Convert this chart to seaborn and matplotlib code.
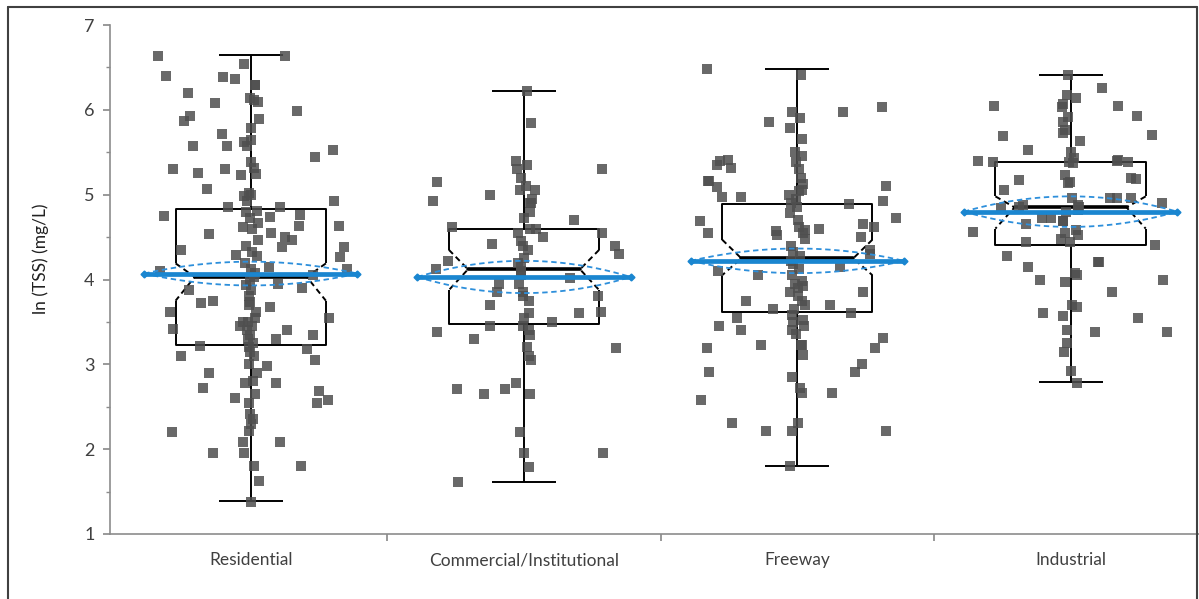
import numpy as np
import pandas as pd
import seaborn as sns
import matplotlib.pyplot as plt
from matplotlib.lines import Line2D
from matplotlib.ticker import MultipleLocator

categories = ["Residential", "Commercial/Institutional", "Freeway", "Industrial"]

# ln(TSS) values; "line" = points sitting on the whisker line,
# "spread" = points scattered across the box width
res_line = [6.54, 6.29, 6.14, 6.12, 5.89, 5.78, 5.65, 5.62, 5.57, 5.38, 5.32, 5.24,
            5.02, 4.98, 4.92, 4.81, 4.80, 4.72, 4.67, 4.62, 4.60, 4.46, 4.40, 4.33,
            4.28, 4.20, 4.12, 4.08, 4.03, 3.98, 3.93, 3.88, 3.80, 3.74, 3.70, 3.62,
            3.55, 3.50, 3.45, 3.40, 3.35, 3.30, 3.25, 3.20, 3.15, 3.10, 3.00, 2.90,
            2.78, 2.65, 2.55, 2.42, 2.35, 2.30, 2.22, 2.08, 1.95, 1.80, 1.38]
res_spread = [6.64, 6.63, 6.40, 6.39, 6.36, 6.20, 6.29, 6.09, 6.08, 5.99, 5.87, 5.93,
              5.71, 5.57, 5.57, 5.53, 5.44, 5.30, 5.30, 5.25, 5.23, 5.07, 5.00, 4.92,
              4.85, 4.85, 4.74, 4.76, 4.75, 4.63, 4.63, 4.55, 4.54, 4.50, 4.47, 4.38,
              4.35, 4.38, 4.27, 4.29, 4.15, 4.10, 4.12, 4.05, 3.95, 3.90, 3.88, 3.75,
              3.72, 3.68, 3.62, 3.55, 3.50, 3.45, 3.42, 3.40, 3.35, 3.30, 3.22, 3.18,
              3.10, 3.05, 2.98, 2.90, 2.80, 2.78, 2.72, 2.68, 2.60, 2.58, 2.55, 2.20,
              2.08, 1.95, 1.80, 1.62]

com_line = [6.22, 5.85, 5.35, 5.30, 5.20, 5.10, 5.05, 4.95, 4.90, 4.80, 4.72, 4.60,
            4.55, 4.45, 4.40, 4.35, 4.25, 4.20, 4.15, 4.10, 4.05, 3.95, 3.85, 3.80,
            3.75, 3.60, 3.55, 3.45, 3.40, 3.35, 3.20, 3.10, 3.05, 2.78, 2.65, 2.20,
            1.95, 1.79]
com_spread = [5.40, 5.30, 5.15, 5.05, 5.00, 4.92, 4.70, 4.60, 4.55, 4.50, 4.42, 4.30,
              4.22, 4.12, 4.02, 3.95, 3.85, 3.80, 3.70, 3.62, 3.50, 3.45, 3.38, 3.30,
              3.19, 2.71, 2.71, 2.65, 1.95, 1.61, 3.60, 4.62, 4.40, 4.90]

fwy_line = [6.41, 5.97, 5.90, 5.79, 5.50, 5.45, 5.38, 5.30, 5.20, 5.13, 5.05, 5.00,
            4.95, 4.85, 4.78, 4.70, 4.62, 4.55, 4.48, 4.40, 4.33, 4.28, 4.22, 4.18,
            4.12, 4.05, 3.98, 3.92, 3.85, 3.80, 3.75, 3.70, 3.65, 3.58, 3.52, 3.45,
            3.40, 3.36, 3.23, 3.11, 2.85, 2.72, 2.66, 2.31, 2.21, 1.80]
fwy_spread = [6.48, 6.03, 5.86, 5.98, 5.66, 5.35, 5.40, 5.41, 5.32, 5.16, 5.16, 5.10,
              5.09, 5.04, 4.97, 4.97, 4.89, 4.92, 4.90, 4.69, 4.72, 4.55, 4.57, 4.58,
              4.62, 4.50, 4.60, 4.52, 4.65, 4.35, 4.30, 4.15, 4.10, 4.05, 3.95, 3.90,
              3.85, 3.75, 3.70, 3.65, 3.60, 3.55, 3.50, 3.45, 3.40, 3.31, 3.23, 3.19,
              3.23, 3.19, 2.91, 2.91, 3.00, 2.58, 2.66, 2.31, 2.21, 2.21]

ind_line = [6.17, 6.14, 6.07, 6.03, 5.92, 5.86, 5.76, 5.73, 5.50, 5.43, 5.38, 5.23,
            5.14, 4.96, 4.88, 4.85, 4.80, 4.69, 4.58, 4.52, 4.44, 4.08, 4.05, 3.70,
            3.67, 3.57, 3.40, 3.25, 3.15, 2.78]
ind_spread = [6.41, 6.26, 6.05, 6.05, 5.93, 5.70, 5.69, 5.63, 5.53, 5.41, 5.40, 5.37,
              5.38, 5.40, 5.38, 5.19, 5.17, 5.20, 5.15, 5.05, 4.96, 4.96, 4.96, 4.90,
              4.88, 4.86, 4.84, 4.82, 4.72, 4.72, 4.69, 4.66, 4.56, 4.55, 4.44, 4.48,
              4.41, 4.28, 4.21, 4.21, 4.15, 3.97, 4.00, 4.00, 3.85, 3.55, 3.60, 3.38,
              3.38, 2.92]

# box statistics
whis_lo = [1.39, 1.61, 1.80, 2.79]
q1 = [3.23, 3.48, 3.62, 4.41]
notch_lo = [3.75, 3.875, 4.05, 4.60]
median = [4.03, 4.12, 4.25, 4.85]
notch_hi = [4.19, 4.35, 4.47, 4.98]
q3 = [4.83, 4.59, 4.89, 5.38]
whis_hi = [6.65, 6.22, 6.48, 6.41]
mean = [4.07, 4.03, 4.22, 4.80]
mean_ci = [0.14, 0.19, 0.145, 0.18]

rows = []
for cat, line, spread in zip(categories,
                             [res_line, com_line, fwy_line, ind_line],
                             [res_spread, com_spread, fwy_spread, ind_spread]):
    rows += [(cat, v, "line") for v in line]
    rows += [(cat, v, "spread") for v in spread]
df = pd.DataFrame(rows, columns=["group", "value", "kind"])

sns.set_theme(style="white")
plt.rcParams["font.family"] = ["Lato", "DejaVu Sans"]

fig = plt.figure(figsize=(11.99, 5.99), dpi=100)
ax = fig.add_axes([110 / 1199, 1 - 534 / 599, 1089 / 1199, 509 / 599])

np.random.seed(7)
pt = dict(x="group", y="value", order=categories, marker="s", size=6.5,
          color="#4f4f4f", alpha=0.85, linewidth=0, ax=ax, zorder=3)
sns.stripplot(data=df[df.kind == "line"], jitter=0.03, **pt)
sns.stripplot(data=df[df.kind == "spread"], jitter=0.36, **pt)

hw, nw, cw, mw = 0.275, 0.205, 0.117, 0.39
for i in range(len(categories)):
    k = dict(color="black", lw=1.4, zorder=2, solid_capstyle="butt")
    # box sides (solid) and notch (dashed)
    ax.plot([i - hw, i - hw, i + hw, i + hw], [notch_hi[i], q3[i], q3[i], notch_hi[i]], **k)
    ax.plot([i - hw, i - hw, i + hw, i + hw], [notch_lo[i], q1[i], q1[i], notch_lo[i]], **k)
    for s in (-1, 1):
        ax.plot([i + s * hw, i + s * nw, i + s * hw],
                [notch_hi[i], median[i], notch_lo[i]], color="black", lw=1.4,
                ls=(0, (3, 2)), zorder=2)
    ax.plot([i - nw, i + nw], [median[i], median[i]], color="black", lw=2.6, zorder=2)
    # whiskers
    ax.plot([i, i], [q3[i], whis_hi[i]], **k)
    ax.plot([i, i], [q1[i], whis_lo[i]], **k)
    ax.plot([i - cw, i + cw], [whis_hi[i], whis_hi[i]], **k)
    ax.plot([i - cw, i + cw], [whis_lo[i], whis_lo[i]], **k)
    # mean and its confidence lens
    xs = np.linspace(-mw, mw, 60)
    lens = mean_ci[i] * (1 - (xs / mw) ** 2)
    ax.plot(i + xs, mean[i] + lens, color="#2d8fdb", lw=1.3, ls=(0, (3, 2)), zorder=4)
    ax.plot(i + xs, mean[i] - lens, color="#2d8fdb", lw=1.3, ls=(0, (3, 2)), zorder=4)
    ax.plot([i - mw, i + mw], [mean[i], mean[i]], color="#1a86d0", lw=3.4, zorder=4)
    ax.plot([i - mw, i + mw], [mean[i], mean[i]], ls="none", marker="D", ms=3.5,
            color="#1a86d0", zorder=4)

ax.set_xlim(-0.515, 3.47)
ax.set_ylim(1, 7)
ax.set_yticks(range(1, 8))
ax.yaxis.set_minor_locator(MultipleLocator(0.5))
ax.set_xticks([0.5, 1.5, 2.5])
ax.set_xticklabels([])
ax.set_xticks(range(len(categories)), categories, minor=True)
ax.tick_params(axis="x", which="minor", length=0, pad=13, labelsize=12.5, labelcolor="#404040")
ax.tick_params(axis="x", which="major", length=5, color="#8c8c8c", direction="out", bottom=True)
ax.tick_params(axis="y", which="major", length=5, color="#8c8c8c", direction="out", left=True,
               labelsize=13, labelcolor="#404040", pad=6)
ax.tick_params(axis="y", which="minor", length=3, color="#8c8c8c", direction="out", left=True)
ax.set_xlabel("")
ax.set_ylabel("ln (TSS) (mg/L)", fontsize=12.5, color="#202020")
ax.yaxis.set_label_coords(-0.056, 0.54)
for side in ("top", "right"):
    ax.spines[side].set_visible(False)
for side in ("left", "bottom"):
    ax.spines[side].set_color("#8c8c8c")
    ax.spines[side].set_linewidth(1.2)
ax.grid(False)

# outer frame of the figure
frame = dict(transform=fig.transFigure, color="#404040", lw=1.5)
fig.add_artist(Line2D([8 / 1199, 8 / 1199], [0, 1 - 7 / 599], **frame))
fig.add_artist(Line2D([8 / 1199, 1197 / 1199], [1 - 7 / 599, 1 - 7 / 599], **frame))
fig.add_artist(Line2D([1197 / 1199, 1197 / 1199], [0, 1 - 7 / 599], **frame))

fig.savefig("out.png", dpi=100)
